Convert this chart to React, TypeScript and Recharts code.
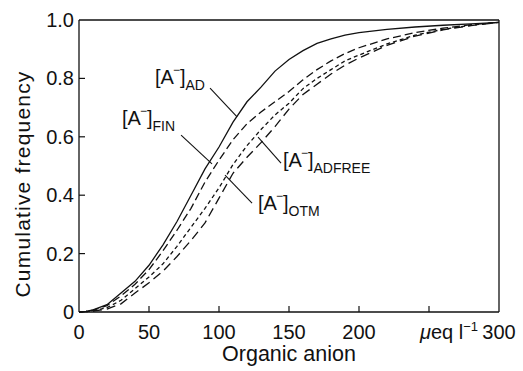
import React from "react";
import {
  LineChart,
  Line,
  XAxis,
  YAxis,
  ReferenceLine,
  ReferenceDot,
} from "recharts";

const xValues = [0, 5, 10, 20, 30, 40, 50, 60, 70, 80, 90, 100, 110, 120, 130, 140, 150, 160, 170, 180, 190, 200, 220, 240, 260, 280, 300];
const adValues = [0, 0.002, 0.007, 0.025, 0.065, 0.105, 0.16, 0.23, 0.31, 0.4, 0.49, 0.565, 0.65, 0.72, 0.77, 0.825, 0.865, 0.895, 0.92, 0.935, 0.948, 0.957, 0.968, 0.976, 0.982, 0.987, 0.992];
const finValues = [0, 0.002, 0.006, 0.022, 0.055, 0.095, 0.145, 0.21, 0.28, 0.355, 0.445, 0.52, 0.59, 0.645, 0.685, 0.72, 0.755, 0.795, 0.83, 0.86, 0.885, 0.905, 0.935, 0.957, 0.972, 0.984, 0.992];
const otmValues = [0, 0.001, 0.004, 0.015, 0.04, 0.08, 0.12, 0.165, 0.225, 0.29, 0.355, 0.425, 0.505, 0.57, 0.625, 0.675, 0.715, 0.765, 0.8, 0.83, 0.86, 0.88, 0.918, 0.948, 0.968, 0.982, 0.992];
const adfreeValues = [0, 0.001, 0.003, 0.01, 0.028, 0.065, 0.1, 0.14, 0.19, 0.245, 0.305, 0.39, 0.475, 0.53, 0.58, 0.635, 0.695, 0.745, 0.78, 0.815, 0.845, 0.87, 0.913, 0.945, 0.966, 0.981, 0.992];

const xTicks = [0, 50, 100, 150, 200, 250, 300];
const xTickLabels = ["0", "50", "100", "150", "200", "", "300"];
const yTicks = [0, 0.2, 0.4, 0.6, 0.8, 1.0];

// label anchors (data coords) and leader segments
const labels = [
  { sub: "AD", x: 54.3, y: 0.78, line: [[93.6, 0.767], [112.9, 0.668]] },
  { sub: "FIN", x: 30.7, y: 0.64, line: [[72.9, 0.606], [95, 0.507]] },
  { sub: "ADFREE", x: 145.7, y: 0.497, line: [[144.3, 0.51], [127.9, 0.599]] },
  { sub: "OTM", x: 127.9, y: 0.349, line: [[123.6, 0.373], [104.3, 0.469]] },
];

const data = xValues.map((x, i) => ({
  x,
  ad: adValues[i],
  fin: finValues[i],
  otm: otmValues[i],
  adfree: adfreeValues[i],
}));

const FONT = "'Liberation Sans', Arial, sans-serif";
const INK = "#111";

function XTick(props: any) {
  const { x, y, payload, index } = props;
  const v = payload.value;
  const axisY = y - 6;
  return (
    <g>
      {v !== 0 && v !== 300 && (
        <line x1={x} x2={x} y1={axisY} y2={axisY - 6} stroke={INK} strokeWidth={1.2} />
      )}
      <text x={x} y={y + 21} textAnchor="middle" fontFamily={FONT} fontSize={20} fill={INK}>
        {xTickLabels[index] ?? String(v)}
      </text>
      {v === 300 && (
        <text x={x - 21} y={y + 21} textAnchor="end" fontFamily={FONT} fontSize={20} fill={INK}>
          <tspan fontStyle="italic">μ</tspan>eq l
          <tspan fontSize={13} dy={-8}>−1</tspan>
        </text>
      )}
    </g>
  );
}

function YTick(props: any) {
  const { x, y, payload } = props;
  const v = payload.value;
  const axisX = x + 5;
  return (
    <g>
      {v !== 0 && v !== 1 && (
        <line x1={axisX} x2={axisX + 6} y1={y} y2={y} stroke={INK} strokeWidth={1.2} />
      )}
      <text x={x} y={y + 7} textAnchor="end" fontFamily={FONT} fontSize={20} fill={INK}>
        {v === 0 ? "0" : v.toFixed(1)}
      </text>
    </g>
  );
}

function AnionLabel({ sub }: { sub: string }) {
  return (props: any) => {
    const { cx, cy } = props;
    return (
      <text x={cx} y={cy} fontFamily={FONT} fontSize={20} fill={INK}>
        [A
        <tspan fontSize={12} dx={-1} dy={-10}>−</tspan>
        <tspan dx={0} dy={10}>]</tspan>
        <tspan fontSize={14} dy={6}>{sub}</tspan>
      </text>
    );
  };
}

function YLabel() {
  return (
    <text
      x={22}
      y={184}
      transform="rotate(-90 22 184)"
      textAnchor="middle"
      dominantBaseline="central"
      fontFamily={FONT}
      fontSize={21}
      letterSpacing={1.2}
      fill={INK}
    >
      Cumulative frequency
    </text>
  );
}

function XLabel(props: any) {
  const { viewBox } = props;
  const cx = viewBox.x + viewBox.width / 2;
  return (
    <text x={cx} y={361} textAnchor="middle" fontFamily={FONT} fontSize={21.5} fill={INK}>
      Organic anion
    </text>
  );
}

export default function App() {
  return (
    <div style={{ position: "absolute", left: 0, top: 0, background: "#fff" }}>
      <LineChart
        width={523}
        height={371}
        data={data}
        margin={{ top: 20, right: 24, left: 0, bottom: 0 }}
      >
        <XAxis
          dataKey="x"
          type="number"
          domain={[0, 300]}
          ticks={xTicks}
          interval={0}
          height={59}
          tickLine={false}
          tickSize={0}
          tickMargin={6}
          axisLine={{ stroke: INK, strokeWidth: 1.3 }}
          tick={<XTick />}
          label={<XLabel />}
        />
        <YAxis
          type="number"
          domain={[0, 1]}
          ticks={yTicks}
          interval={0}
          width={79}
          tickLine={false}
          tickSize={0}
          tickMargin={5}
          axisLine={{ stroke: INK, strokeWidth: 1.3 }}
          tick={<YTick />}
          label={<YLabel />}
        />
        <ReferenceLine y={1} stroke={INK} strokeWidth={1.3} />
        <ReferenceLine x={300} stroke={INK} strokeWidth={1.3} />
        <Line dataKey="ad" type="linear" stroke={INK} strokeWidth={1.3} dot={false} isAnimationActive={false} />
        <Line dataKey="fin" type="linear" stroke={INK} strokeWidth={1.3} strokeDasharray="8 4" dot={false} isAnimationActive={false} />
        <Line dataKey="otm" type="linear" stroke={INK} strokeWidth={1.3} strokeDasharray="4 3" dot={false} isAnimationActive={false} />
        <Line dataKey="adfree" type="linear" stroke={INK} strokeWidth={1.3} strokeDasharray="9 5" dot={false} isAnimationActive={false} />
        {labels.map((l) => (
          <ReferenceLine
            key={"seg-" + l.sub}
            segment={[
              { x: l.line[0][0], y: l.line[0][1] },
              { x: l.line[1][0], y: l.line[1][1] },
            ]}
            stroke={INK}
            strokeWidth={1.1}
          />
        ))}
        {labels.map((l) => (
          <ReferenceDot
            key={"lab-" + l.sub}
            x={l.x}
            y={l.y}
            r={0}
            stroke="none"
            fill="none"
            shape={AnionLabel({ sub: l.sub })}
          />
        ))}
      </LineChart>
    </div>
  );
}
